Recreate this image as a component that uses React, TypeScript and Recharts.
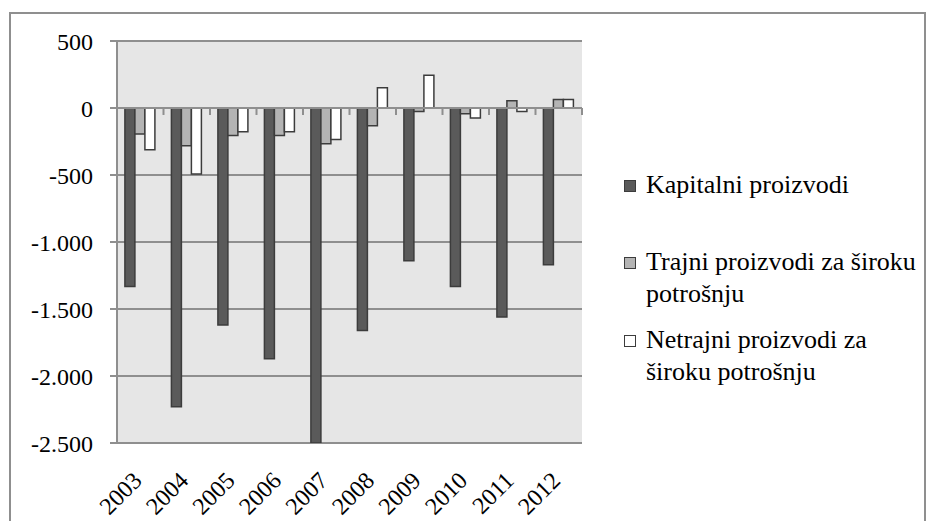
import React from 'react';
import { BarChart, Bar, XAxis, YAxis, CartesianGrid, ReferenceLine } from 'recharts';

const categories = ['2003', '2004', '2005', '2006', '2007', '2008', '2009', '2010', '2011', '2012'];
const kapitalni = [-1333, -2229, -1619, -1871, -2500, -1660, -1139, -1333, -1560, -1169];
const trajni = [-194, -282, -206, -206, -266, -133, -27, -42, 54, 64];
const netrajni = [-311, -492, -177, -177, -235, 152, 244, -74, -27, 64];
const seriesNames = [
  'Kapitalni proizvodi',
  'Trajni proizvodi za široku potrošnju',
  'Netrajni proizvodi za široku potrošnju',
];
const legendLines = [
  ['Kapitalni proizvodi'],
  ['Trajni proizvodi za široku', 'potrošnju'],
  ['Netrajni proizvodi za', 'široku potrošnju'],
];
const seriesKeys = ['k', 't', 'n'];
const seriesFills = ['#5a5a5a', '#b4b4b4', '#ffffff'];
const yTicks = [500, 0, -500, -1000, -1500, -2000, -2500];

const data = categories.map((c, i) => ({ year: c, k: kapitalni[i], t: trajni[i], n: netrajni[i] }));

const FONT = "'Liberation Serif', Tinos, FreeSerif, serif";
const GRID = '#8f8f8f';

const fmt = (v: number) => {
  const s = Math.abs(v).toString().replace(/\B(?=(\d{3})+(?!\d))/g, '.');
  return v < 0 ? '-' + s : s;
};

const YearTick = (props: any) => {
  const { x, y, payload } = props;
  return (
    <g transform={`translate(${x + 3},${y + 39})`}>
      <text textAnchor="end" transform="rotate(-45)" fontSize={24} style={{ fontFamily: FONT }} fill="#000">
        {payload.value}
      </text>
    </g>
  );
};

export default function App() {
  return (
    <div lang="en" style={{ position: 'relative', width: 920, height: 513, fontFamily: FONT }}>
      <div
        style={{
          position: 'absolute',
          left: 1,
          top: 4,
          width: 917,
          height: 509,
          borderTop: `2px solid ${GRID}`,
          borderLeft: `2px solid ${GRID}`,
          borderRight: `2px solid ${GRID}`,
          boxSizing: 'border-box',
        }}
      />
      <div style={{ position: 'absolute', left: 0, top: 0 }}>
        <BarChart
          width={920}
          height={513}
          data={data}
          margin={{ top: 33, right: 346, bottom: 0, left: 0 }}
          barCategoryGap="17%"
          barGap={0}
          style={{ fontFamily: FONT }}
        >
          <CartesianGrid vertical={false} stroke={GRID} strokeWidth={2} fill="#e6e6e6" fillOpacity={1} />
          <XAxis
            dataKey="year"
            axisLine={false}
            tickLine={false}
            tickSize={0}
            tickMargin={0}
            height={78}
            interval={0}
            tick={<YearTick />}
          />
          <YAxis
            domain={[-2500, 500]}
            ticks={yTicks}
            width={109}
            tickSize={7}
            tickMargin={17}
            allowDataOverflow
            axisLine={{ stroke: GRID, strokeWidth: 2 }}
            tickLine={{ stroke: GRID, strokeWidth: 2 }}
            tick={{ fill: '#000', fontSize: 24, style: { fontFamily: FONT } }}
            tickFormatter={fmt}
          />
          {seriesKeys.map((k, i) => (
            <Bar
              key={k}
              dataKey={k}
              name={seriesNames[i]}
              fill={seriesFills[i]}
              stroke="#3c3c3c"
              strokeWidth={1.5}
              isAnimationActive={false}
            />
          ))}
          <ReferenceLine y={0} stroke={GRID} strokeWidth={2} />
          {categories.slice(1).map((c) => (
            <ReferenceLine
              key={'tk' + c}
              segment={[{ x: c, y: 0 }, { x: c, y: -52 }]}
              position="start"
              stroke={GRID}
              strokeWidth={2}
            />
          ))}
          <ReferenceLine
            segment={[{ x: categories[categories.length - 1], y: 0 }, { x: categories[categories.length - 1], y: -52 }]}
            position="end"
            stroke={GRID}
            strokeWidth={2}
          />
        </BarChart>
      </div>
      {seriesNames.map((name, i) => (
        <div
          key={name}
          style={{
            position: 'absolute',
            left: 616,
            top: [161, 238, 316][i],
            width: 310,
            display: 'flex',
            alignItems: 'flex-start',
            fontFamily: FONT,
            fontSize: 26,
            lineHeight: '32px',
            color: '#000',
          }}
        >
          <div
            style={{
              width: 12,
              height: 12,
              marginTop: 11,
              background: seriesFills[i],
              border: '1.5px solid #3c3c3c',
              boxSizing: 'border-box',
              flex: 'none',
            }}
          />
          <div style={{ marginLeft: 10, whiteSpace: 'nowrap' }}>
            {legendLines[i].map((line) => (
              <div key={line}>{line}</div>
            ))}
          </div>
        </div>
      ))}
    </div>
  );
}
